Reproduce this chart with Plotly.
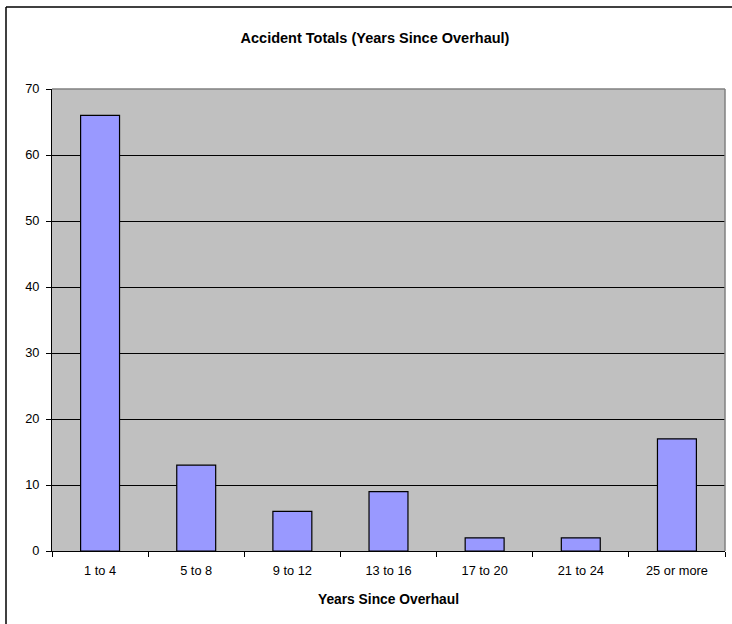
import plotly.graph_objects as go

categories = ["1 to 4", "5 to 8", "9 to 12", "13 to 16", "17 to 20", "21 to 24", "25 or more"]
accidents = [66, 13, 6, 9, 2, 2, 17]
y_ticks = [0, 10, 20, 30, 40, 50, 60, 70]

W, H = 732, 624
L, R, T, B = 52, 7, 89, 73
pw, ph = W - L - R, H - T - B

fig = go.Figure(
    go.Bar(
        x=categories,
        y=accidents,
        marker=dict(color="#9999FF", line=dict(color="#000000", width=1.2)),
        hoverinfo="x+y",
    )
)

# helpers to place decorations in pixel terms
def px_x(x):
    return (x - L) / pw

def px_y(y):
    return (H - B - y) / ph

# outer chart frame (left and top edges visible in the window)
fig.add_shape(type="line", xref="paper", yref="paper",
              x0=px_x(6), x1=px_x(6), y0=px_y(640), y1=px_y(7),
              line=dict(color="#000000", width=1.5))
fig.add_shape(type="line", xref="paper", yref="paper",
              x0=px_x(6), x1=px_x(760), y0=px_y(7), y1=px_y(7),
              line=dict(color="#000000", width=1.5))
# plot-area frame on top and right
fig.add_shape(type="line", xref="paper", yref="paper",
              x0=0, x1=1, y0=1, y1=1, line=dict(color="#808080", width=1.5))
fig.add_shape(type="line", xref="paper", yref="paper",
              x0=1, x1=1, y0=0, y1=1, line=dict(color="#808080", width=1.5))

fig.update_layout(
    width=W, height=H,
    margin=dict(l=L, r=R, t=T, b=B),
    paper_bgcolor="#FFFFFF",
    plot_bgcolor="#C0C0C0",
    bargap=0.595,
    showlegend=False,
    font=dict(family="Liberation Sans, Arial, sans-serif", size=12, color="#000000"),
    title=dict(
        text="<b>Accident Totals (Years Since Overhaul)</b>",
        x=375 / W, xanchor="center",
        y=1 - 38 / H, yanchor="middle",
        font=dict(size=14.5, color="#000000"),
    ),
    xaxis=dict(
        title=dict(text="<b>Years Since Overhaul</b>", font=dict(size=13.8), standoff=16),
        showline=True, linecolor="#000000", linewidth=1,
        ticks="outside", ticklen=5, tickcolor="#000000",
        tickson="boundaries",
        ticklabelstandoff=8,
        showgrid=False,
        tickfont=dict(size=12.8),
    ),
    yaxis=dict(
        range=[0, 70],
        tickvals=y_ticks,
        showline=True, linecolor="#000000", linewidth=1,
        ticks="outside", ticklen=5, tickcolor="#000000",
        ticklabelstandoff=4,
        showgrid=True, gridcolor="#000000", gridwidth=1,
        zeroline=False,
        tickfont=dict(size=12.8),
    ),
)

fig.write_html("out.html")
